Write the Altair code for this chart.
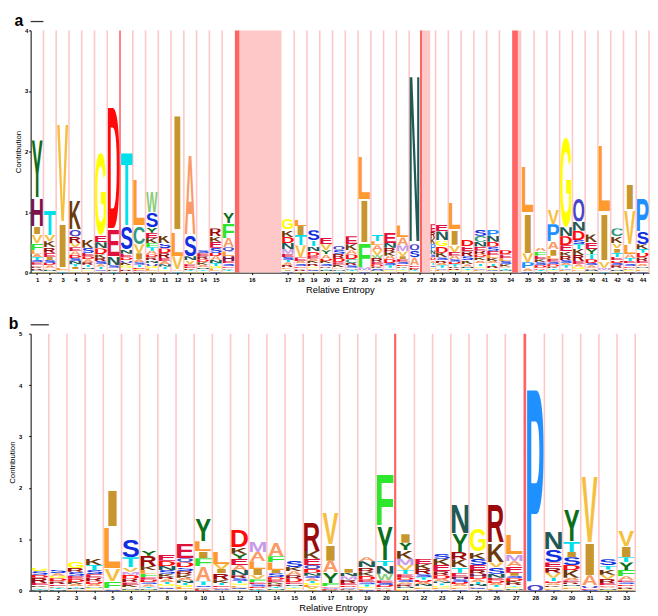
import base64
import altair as alt
import pandas as pd

# ---------------- data ----------------
# Each string lists one logo column, top letter first: <letter><height>
A_STACKS = [
    "Y.99 H.48 I.13 V.14 F.12 L.06 A.05 T.05 S.04 E.04 D.03 K.03 R.03 N.02 G.02",
    "T.43 V.10 K.10 R.09 E.07 I.05 S.05 D.04 A.04 L.03 N.03 G.02",
    "V1.70 I.75 L.04 A.02 T.02",
    "K.50 Q.12 R.11 V.07 E.07 A.06 D.05 S.05 N.05 T.04 I.04 G.03 L.03",
    "K.14 S.08 E.06 D.05 A.05 R.04 T.04 N.03 G.03 L.03",
    "G1.40 E.12 N.10 D.10 K.06 R.05 S.05 A.04 T.04 Q.03 L.03",
    "D2.12 E.45 N.14 S.04 A.03 K.03 T.02",
    "T1.26 S.38 N.07 E.06 D.05 Q.04 K.04 G.04 A.03 R.03 L.02",
    "L.78 C.30 V.15 I.10 A.05 S.04 T.04 D.03 G.02 E.02 K.02",
    "W.36 S.24 Y.09 E.09 K.08 F.07 T.06 A.06 D.05 R.05 N.05 Q.04 G.04 L.04 I.03",
    "K.13 S.08 D.08 R.08 E.05 A.05 N.04 T.04 G.03 L.03",
    "I1.99 L.41 V.22 A.03 T.02",
    "A1.38 S.35 N.07 V.06 E.04 D.03 K.03 T.02 G.02",
    "S.05 E.05 R.05 D.05 K.04 A.04 N.03 T.03 G.03",
    "R.13 K.09 E.10 S.08 D.06 A.06 N.05 T.05 G.04 L.04 Q.03",
    "Y.18 F.24 A.15 Q.07 L.08 H.08 E.04 S.04 D.03 K.03 T.03 G.02",
    "G.17 K.12 D.10 N.10 M.08 E.05 S.05 T.04 A.04 R.04 L.03 I.03 Q.03",
    "L.12 I.15 T.17 V.20 E.06 A.04 S.04 D.03 K.03 R.03 G.02",
    "S.17 T.10 N.08 D.07 E.05 A.04 K.04 R.04 G.03 L.03 Q.03 V.02",
    "E.10 V.10 Y.07 A.07 D.04 K.04 S.04 R.03 T.03 N.03 G.02",
    "Q.07 S.07 R.07 D.07 E.04 K.04 A.03 N.03 T.03",
    "E.13 K.10 A.07 D.08 C.06 R.04 S.04 N.03 T.03 G.02",
    "L.75 I.72 F.40 M.05 A.02 S.02",
    "T.11 L.07 A.08 V.08 W.05 R.06 E.04 D.04 K.03 S.03 N.02 G.02",
    "E.17 N.08 R.07 K.06 A.06 D.06 S.04 T.04 Q.03 G.03 L.02",
    "L.20 A.13 M.10 V.08 I.05 E.04 S.04 D.03 K.03 T.03 G.03 R.02",
    "N2.90 Q.10 S.12 A.13 E.03 D.03 K.02 T.02 G.02",
    "E.13 R.10 K.10 P.10 N.07 S.05 D.05 A.04 T.04 Q.03 G.03 L.03 V.03",
    "E.12 N.15 G.10 D.10 K.08 S.05 R.04 A.04 T.04 Q.03 L.03 V.02",
    "L.45 I.25 V.12 E.06 A.06 S.04 D.04 T.04 K.03 R.03 G.02 N.02",
    "D.12 E.08 R.08 S.07 K.06 A.04 N.03 T.03 G.02 L.02",
    "S.12 C.10 N.08 E.07 R.06 D.05 K.05 A.05 T.04 G.03 Q.03 L.03 V.02",
    "P.11 N.10 D.08 S.07 E.07 L.05 K.05 A.04 T.04 R.04 G.03 Q.02 V.02",
    "D.07 E.06 L.05 S.05 K.04 A.03 T.03 N.02 G.02",
    "L.78 I.67 V.15 P.10 A.05 S.02",
    "A.06 F.07 E.06 K.05 S.05 D.04 R.03 T.03 N.02",
    "V.25 P.29 A.13 I.10 L.05 E.05 S.04 D.04 K.03 T.03 G.02 R.02",
    "G1.54 N.15 D.15 E.10 K.07 R.07 S.05 A.04 T.04 Q.03 L.03 V.02",
    "Q.38 N.16 D.15 S.07 T.08 K.10 R.10 E.05 A.04 G.04 L.03 V.03",
    "K.13 E.11 Y.09 T.08 D.06 S.04 A.04 R.03 N.03 G.02",
    "L1.16 I.80 V.12 M.04 A.02 T.02",
    "C.13 K.12 V.08 I.07 T.07 E.06 D.04 S.04 R.04 A.03 N.03 G.02",
    "I.43 V.59 L.16 A.06 T.05 E.04 S.04 D.03 K.03 G.03 R.02",
    "P.56 S.20 K.08 T.06 D.08 R.06 E.04 A.04 N.03 G.03 L.03 Q.02",
]
A_OCCUPANCY = {27: 0.85, 28: 0.42}                      # narrower match columns
A_INSERTS = {16: (3.65, 0.37), 27: (0.80, 0.18), 34: (0.72, 0.45)}  # (length, strong part)
A_STRONG_LINES = [7]

B_STACKS = [
    "G.07 S.07 D.06 R.10 E.05 K.03 A.03 T.02 N.02",
    "S.07 A.05 G.05 D.06 R.06 E.03 K.03 T.03 N.03",
    "G.13 R.07 S.08 E.06 D.06 K.04 A.04 T.03 N.03 L.03",
    "K.14 T.10 S.08 E.07 R.07 D.05 A.04 N.03 G.03 L.03",
    "I.73 L.83 V.24 F.13 A.03 S.02",
    "S.35 T.20 V.08 M.06 D.08 R.07 E.05 K.04 A.03 N.02 G.02",
    "Y.10 R.20 K.08 L.07 F.07 E.05 D.05 S.04 A.04 T.03 N.03 G.02",
    "E.12 D.10 N.08 S.07 K.06 R.05 A.05 T.04 G.04 L.03 Q.03 V.03",
    "E.28 Q.08 D.10 S.07 R.07 K.06 A.05 N.05 T.04 G.04 L.04 V.03",
    "Y.45 L.20 I.13 F.15 A.30 T.08 S.03 E.03 K.02 D.02",
    "L.25 V.10 I.08 R.13 K.06 T.05 E.03 D.03 S.02 A.02",
    "D.35 K.13 Y.10 E.12 A.10 N.10 R.06 S.05 T.05 G.04 L.04 Q.03 V.03",
    "M.20 A.18 L.15 I.12 V.08 F.06 E.04 S.04 D.03 K.03 T.02",
    "A.27 F.12 L.15 I.06 S.08 D.05 E.05 K.04 R.04 T.03 N.03 G.02",
    "S.12 K.08 A.08 R.07 D.07 E.04 N.03 T.03 G.03 L.03",
    "R.58 K.15 E.12 Q.08 D.07 N.06 S.05 A.05 T.04 G.04 L.04 V.04 I.03",
    "V.65 I.32 A.23 Y.20 F.06 E.03 S.02 D.02 K.02",
    "I.07 N.07 M.07 R.06 E.05 D.03 S.03 K.02 A.02",
    "A.08 N.12 R.08 K.08 D.08 E.05 S.04 T.04 G.03 L.03 Q.02",
    "F1.05 Y.69 T.10 N.15 W.13 E.05 S.04 D.04 K.03 A.02 R.02",
    "I.17 Y.15 K.16 M.12 V.10 T.08 E.06 D.05 S.05 A.04 R.04 N.03 G.03 L.02",
    "E.10 K.10 R.10 S.06 T.05 D.04 A.04 N.04 G.03 L.03 Q.03",
    "S.10 K.12 E.12 R.08 D.07 A.05 N.04 T.04 G.04 L.03 Q.03",
    "N.57 Y.36 R.15 K.15 T.10 E.08 H.05 S.05 D.04 A.04 G.03 L.03 Q.03",
    "G.46 K.14 S.12 E.10 R.07 H.06 D.05 A.05 T.04 N.04 L.03 Q.03 V.03",
    "R.77 K.38 V.10 S.12 N.08 E.05 D.05 A.04 T.04 G.03 L.02 Q.02",
    "L.40 M.13 A.10 E.12 I.06 S.05 D.05 K.04 R.04 T.03 G.03 N.03 V.02",
    "P3.98 Q.12",
    "N.35 S.25 E.10 R.10 V.10 T.07 D.04 A.04 K.03 G.03 L.02 Q.02",
    "Y.65 T.20 I.10 S.15 D.10 K.15 A.05 E.04 R.04 N.03 G.03 L.03 V.03",
    "V1.37 I.63 A.20 Q.05 E.03 S.02",
    "S.12 T.08 K.10 V.08 R.08 E.04 D.03 A.03 N.03 G.02",
    "V.33 I.22 T.10 Y.15 F.12 A.08 E.04 S.04 D.03 K.03 R.03 G.02 L.01",
]
B_OCCUPANCY = {}
B_INSERTS = {20: (0.12, 0.12), 27: (0.15, 0.15)}
B_STRONG_LINES = []

# residue colours
COLORS = {
    "A": "#fb9a66", "C": "#2e9c80", "D": "#ff0a0a", "E": "#e0103c", "F": "#2fe62f",
    "G": "#ffff00", "H": "#7a1448", "I": "#c8962e", "K": "#6b3a0a", "L": "#ff9a2e",
    "M": "#c89be8", "N": "#1f5a55", "P": "#1e90ff", "Q": "#4646c8", "R": "#9b0a0a",
    "S": "#1030e0", "T": "#00e0ea", "V": "#f5c040", "W": "#88cc77", "Y": "#0b6e1a",
}

# ---------------- glyphs (stretchable letter images) ----------------
GLYPH_X = {
    "A": (0, 722), "C": (44, 686), "D": (73, 673), "E": (73, 618), "F": (73, 565),
    "G": (44, 728), "H": (73, 649), "I": (0, 278), "K": (73, 730), "L": (73, 585),
    "M": (70, 763), "N": (73, 648), "P": (73, 622), "Q": (40, 750), "R": (73, 723),
    "S": (33, 621), "T": (20, 591), "V": (0, 667), "W": (0, 944), "Y": (0, 667),
}


def glyph_url(letter, color):
    x0, x1 = GLYPH_X[letter]
    pad = 0.07 * (x1 - x0)
    svg = (
        '<svg xmlns="http://www.w3.org/2000/svg" width="100" height="100" '
        f'viewBox="{x0 - pad:.1f} -726 {x1 - x0 + 2 * pad:.1f} 738" preserveAspectRatio="none">'
        f'<text x="0" y="0" font-family="Liberation Sans, Arial, sans-serif" '
        f'font-weight="bold" font-size="1000" fill="{color}">{letter}</text></svg>'
    )
    return "data:image/svg+xml;base64," + base64.b64encode(svg.encode()).decode()


glyphs = pd.DataFrame(
    [{"letter": k, "url": glyph_url(k, c)} for k, c in COLORS.items()]
)


def build(stacks, occupancy, inserts, strong_lines, ymax):
    cells, rects, rules, centers = [], [], [], []
    x = 0.0
    for i, s in enumerate(stacks, 1):
        w = occupancy.get(i, 1.0)
        x0, x1 = x, x + w
        items = [(t[0], float(t[1:])) for t in s.split()]
        top = sum(v for _, v in items)
        for letter, v in items:
            cells.append(dict(col=i, letter=letter, x0=x0, x1=x1, y0=top - v, y1=top))
            top -= v
        x = x1
        if i in inserts:
            length, strong = inserts[i]
            rects.append(dict(x0=x, x1=x + strong, lo=0, hi=ymax, kind="strong"))
            if length > strong:
                rects.append(dict(x0=x + strong, x1=x + length, lo=0, hi=ymax, kind="weak"))
            x += length
        else:
            rules.append(dict(x=x, lo=0, hi=ymax,
                              kind="strong" if i in strong_lines else "weak"))
        centers.append(round((x0 + x) / 2, 4))
    return (pd.DataFrame(cells), pd.DataFrame(rects), pd.DataFrame(rules),
            centers, round(x, 4))


FONT = "Liberation Sans"


def panel(tag, stacks, occupancy, inserts, strong_lines, ymax, width, height,
          line_weak, lab_pad):
    cells, rects, rules, centers, total = build(stacks, occupancy, inserts,
                                                strong_lines, ymax)
    xsc = alt.Scale(domain=[0, total], nice=False, zero=False)
    ysc = alt.Scale(domain=[0, ymax], nice=False, zero=True)
    arr = "[" + ",".join(repr(c) for c in centers) + "]"
    xax = alt.Axis(values=centers, labelExpr=f"indexof({arr}, datum.value) + 1",
                   title="Relative Entropy", labelOverlap=False, labelFlush=False,
                   labelBound=False, grid=False, tickSize=2, labelFontSize=6,
                   labelFontWeight="bold", labelPadding=2, titleFontSize=9.5,
                   titleFontWeight="normal", titlePadding=2, domainColor="#000",
                   tickColor="#000", labelColor="#000", titleColor="#000",
                   labelFont=FONT, titleFont=FONT)
    yax = alt.Axis(values=list(range(ymax + 1)), title="Contribution", grid=False,
                   tickSize=2, labelFontSize=6, labelFontWeight="bold",
                   labelPadding=lab_pad, titleFontSize=8, titleFontWeight="normal",
                   titlePadding=2, domainColor="#000", tickColor="#000",
                   labelColor="#000", titleColor="#000", labelFont=FONT,
                   titleFont=FONT)

    ins = alt.Chart(rects).mark_rect().encode(
        x=alt.X("x0:Q", scale=xsc, axis=xax), x2="x1:Q",
        y=alt.Y("hi:Q", scale=ysc, axis=yax), y2="lo:Q",
        color=alt.Color("kind:N", legend=None,
                        scale=alt.Scale(domain=["strong", "weak"],
                                        range=["#ff6464", "#ffc8c8"])),
    )
    lines = alt.Chart(rules).mark_rule(strokeWidth=1.6).encode(
        x=alt.X("x:Q", scale=xsc, axis=xax),
        y=alt.Y("lo:Q", scale=ysc, axis=yax), y2="hi:Q",
        color=alt.Color("kind:N", legend=None,
                        scale=alt.Scale(domain=["strong", "weak"],
                                        range=["#ff8c8c", line_weak])),
    )
    letters = alt.Chart(cells).transform_lookup(
        lookup="letter", from_=alt.LookupData(glyphs, "letter", ["url"])
    ).mark_image(aspect=False).encode(
        x=alt.X("x0:Q", scale=xsc, axis=xax), x2="x1:Q",
        y=alt.Y("y1:Q", scale=ysc, axis=yax), y2="y0:Q",
        url="url:N",
    )
    bar = alt.Chart(pd.DataFrame({"a": [0.0], "b": [1.0]})).mark_rule(
        color="#333", strokeWidth=1.3).encode(
        x=alt.X("a:Q", scale=xsc, axis=xax), x2="b:Q", y=alt.value(-9))

    return alt.layer(ins, lines, letters, bar).properties(
        width=width, height=height,
        title=alt.TitleParams(tag, anchor="start", frame="bounds", fontSize=16,
                              fontWeight="bold", font=FONT, offset=-8,
                              color="#000"),
    )


pa = panel("a", A_STACKS, A_OCCUPANCY, A_INSERTS, A_STRONG_LINES, 4, 628, 246,
           "#ffbcbc", 1)
pb = panel("b", B_STACKS, B_OCCUPANCY, B_INSERTS, B_STRONG_LINES, 5, 614, 261,
           "#f5a0a0", 7)

chart = alt.vconcat(pa, pb, spacing=22).properties(
    padding=0, background="white"
).configure_view(stroke=None).resolve_scale(color="independent")

chart.save("out.html", embed_options={"renderer": "svg", "actions": False})
